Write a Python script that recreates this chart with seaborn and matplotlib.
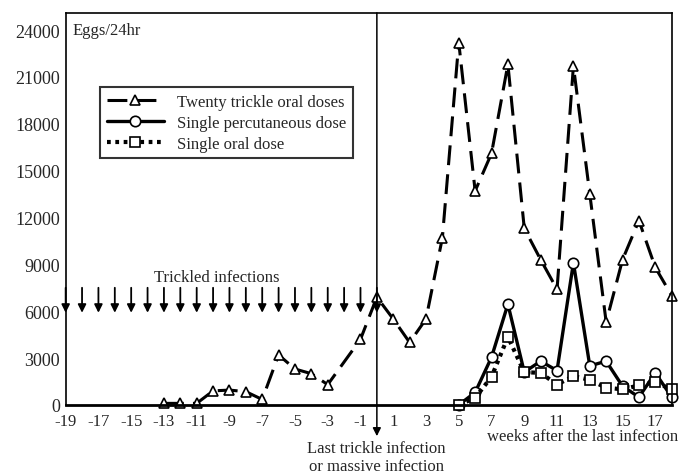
import numpy as np
import pandas as pd
import matplotlib
matplotlib.use('Agg')
import matplotlib.pyplot as plt
import seaborn as sns

# weeks relative to the last infection
trickle_weeks = [-13, -12, -11, -10, -9, -8, -7, -6, -5, -4, -3, -1, 0, 1, 2, 3, 4, 5,
                 6, 7, 8, 9, 10, 11, 12, 13, 14, 15, 16, 17, 18]
trickle_eggs = [100, 100, 100, 900, 950, 850, 350, 3200, 2300, 2000, 1300, 4200, 6900, 5500,
                4000, 5500, 10700, 23200, 13700, 16100, 21800, 11300, 9300, 7400, 21700, 13500,
                5300, 9300, 11800, 8800, 7000]

single_weeks = [5, 6, 7, 8, 9, 10, 11, 12, 13, 14, 15, 16, 17, 18]
percutaneous_eggs = [0, 800, 3050, 6450, 2100, 2800, 2200, 9100, 2500, 2800, 1200, 500, 2050, 500]
oral_eggs = [0, 450, 1800, 4350, 2100, 2050, 1300, 1850, 1600, 1100, 1000, 1250, 1450, 1000]

trickle_dose_weeks = list(range(-19, 1))

x_ticks = list(range(-19, 18, 2))
y_ticks = [0, 3000, 6000, 9000, 12000, 15000, 18000, 21000, 24000]

sns.set_style('white')
plt.rcParams['font.family'] = ['Liberation Serif', 'DejaVu Serif']
plt.rcParams['axes.unicode_minus'] = False

df_trickle = pd.DataFrame({'week': trickle_weeks, 'eggs': trickle_eggs})
df_single = pd.DataFrame({'week': single_weeks, 'perc': percutaneous_eggs, 'oral': oral_eggs})

fig = plt.figure(figsize=(6.84, 4.77), dpi=100)
ax = fig.add_axes([0.096, 0.149, 0.886, 0.822])

sns.lineplot(data=df_trickle, x='week', y='eggs', ax=ax, color='black', lw=2.2,
             linestyle=(0, (6.5, 3)), marker='^', markersize=7.5, markerfacecolor='white',
             markeredgecolor='black', markeredgewidth=1.2, clip_on=False,
             label='Twenty trickle oral doses')
sns.lineplot(data=df_single, x='week', y='perc', ax=ax, color='black', lw=2.4,
             marker='o', markersize=7.5, markerfacecolor='white', markeredgecolor='black',
             markeredgewidth=1.2, clip_on=False, label='Single percutaneous dose')
sns.lineplot(data=df_single, x='week', y='oral', ax=ax, color='black', lw=3,
             linestyle=(0, (0.9, 1.1)), marker='s', markersize=7.5, markerfacecolor='white',
             markeredgecolor='black', markeredgewidth=1.2, clip_on=False,
             label='Single oral dose')

ax.set_xlim(-19, 18)
ax.set_ylim(0, 25100)
ax.set_xticks(x_ticks)
ax.set_yticks(y_ticks)
ax.set_xlabel('')
ax.set_ylabel('')
ax.tick_params(axis='x', direction='in', length=4, width=1, labelsize=12, pad=6)
ax.tick_params(axis='y', direction='out', length=3, width=1, labelsize=13, pad=1)
for s in ax.spines.values():
    s.set_color('black')
    s.set_linewidth(1.2)
ax.spines['bottom'].set_linewidth(2)

# trickle infection arrows
for w in trickle_dose_weeks:
    ax.annotate('', xy=(w, 5900), xytext=(w, 7500),
                arrowprops=dict(arrowstyle='-|>', color='black', lw=1.3,
                                mutation_scale=12, shrinkA=0, shrinkB=0),
                annotation_clip=False)
ax.text(-9.8, 8200, 'Trickled infections', ha='center', va='center', fontsize=12)

# last infection marker
ax.annotate('', xy=(0, -2000), xytext=(0, 25100),
            arrowprops=dict(arrowstyle='-|>', color='black', lw=1.1,
                            mutation_scale=12, shrinkA=0, shrinkB=0),
            annotation_clip=False)

ax.text(0.012, 0.957, 'Eggs/24hr', transform=ax.transAxes, ha='left', va='center', fontsize=12)

fig.text(0.852, 0.084, 'weeks after the last infection', ha='center', va='center', fontsize=12)
fig.text(0.55, 0.059, 'Last trickle infection', ha='center', va='center', fontsize=12)
fig.text(0.55, 0.022, 'or massive infection', ha='center', va='center', fontsize=12)

leg = ax.legend(loc='upper left', bbox_to_anchor=(0.057, 0.811), borderaxespad=0,
                fontsize=12, frameon=True, fancybox=False, handlelength=3.4,
                labelspacing=0.3, borderpad=0.4, handletextpad=0.8)
leg.get_frame().set_edgecolor('black')
leg.get_frame().set_linewidth(1.5)

fig.savefig('out.png', dpi=100)
